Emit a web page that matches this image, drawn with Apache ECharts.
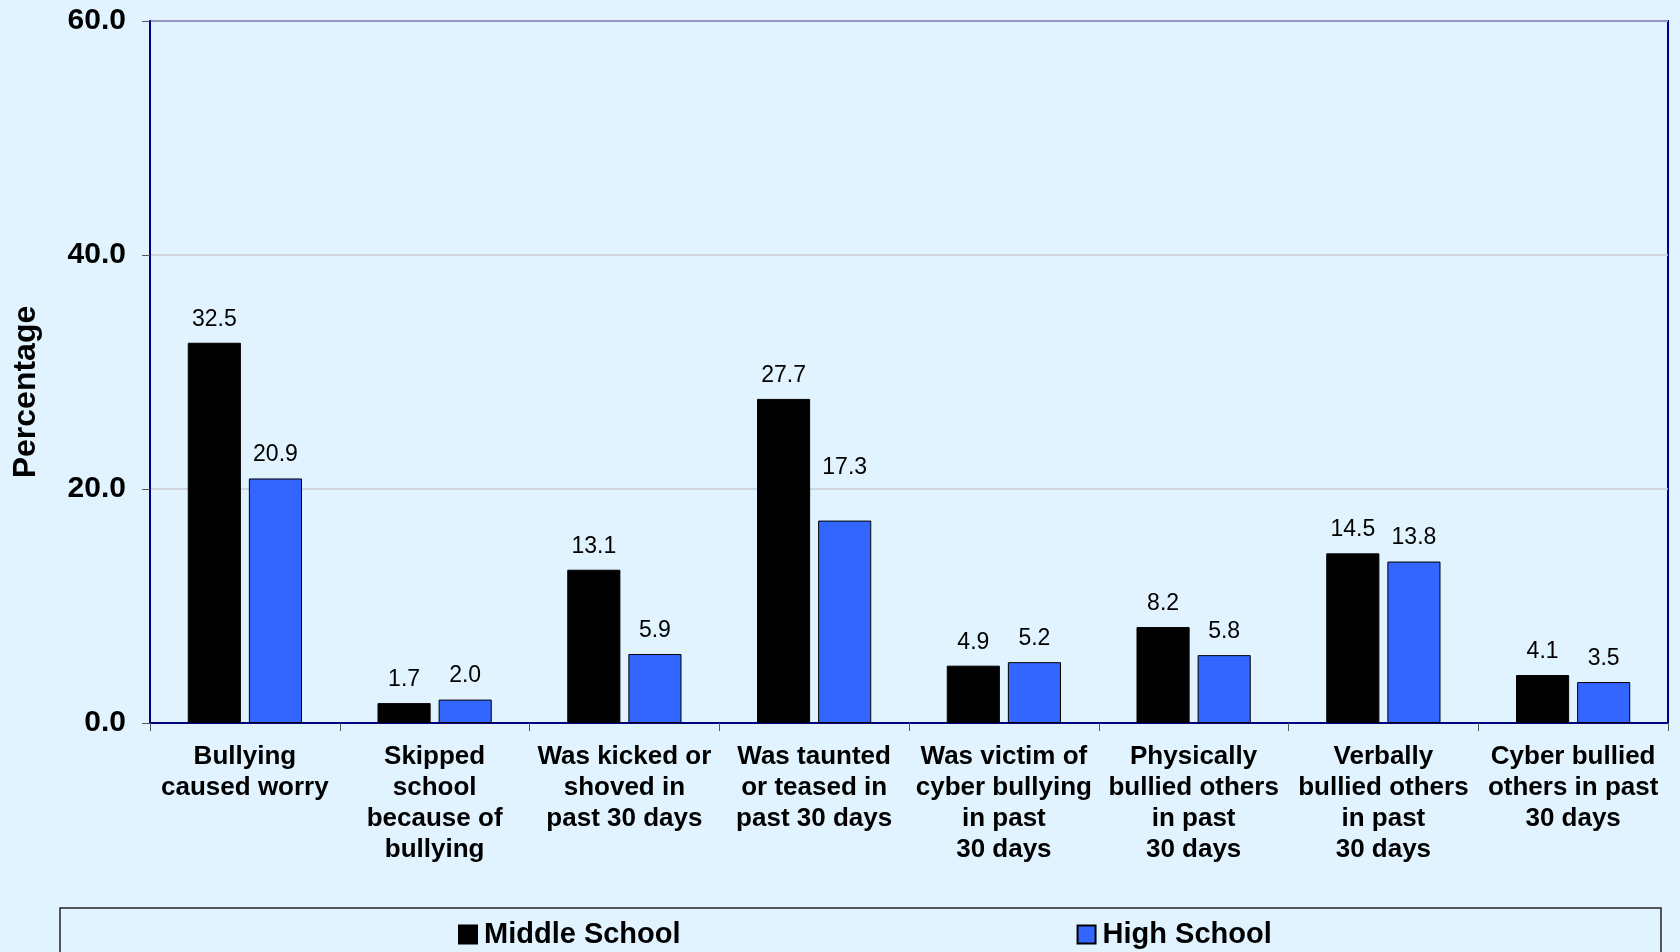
<!DOCTYPE html>
<html>
<head>
<meta charset="utf-8">
<script src="https://cdn.jsdelivr.net/npm/echarts@6/dist/echarts.min.js"></script>
<style>
html,body{margin:0;padding:0;background:#E1F3FE;}
#c{width:1680px;height:952px;}
</style>
</head>
<body>
<div id="c"></div>
<script>
const categories = [
  "Bullying\ncaused worry",
  "Skipped\nschool\nbecause of\nbullying",
  "Was kicked or\nshoved in\npast 30 days",
  "Was taunted\nor teased in\npast 30 days",
  "Was victim of\ncyber bullying\nin past\n30 days",
  "Physically\nbullied others\nin past\n30 days",
  "Verbally\nbullied others\nin past\n30 days",
  "Cyber bullied\nothers in past\n30 days"
];
const middleSchool = [32.5, 1.7, 13.1, 27.7, 4.9, 8.2, 14.5, 4.1];
const highSchool = [20.9, 2.0, 5.9, 17.3, 5.2, 5.8, 13.8, 3.5];
const seriesNames = ["Middle School", "High School"];
const yTicks = { min: 0, max: 60, interval: 20 };

const FONT = "Liberation Sans, Arial, sans-serif";
const chart = echarts.init(document.getElementById('c'));
const labelCfg = {
  show: true, position: 'top', distance: 12,
  fontFamily: FONT, fontSize: 23, color: '#000',
  formatter: p => p.value.toFixed(1)
};
// the reference places the 4th high-school label higher than the others
const highData = highSchool.map((v, i) => i === 3 ? { value: v, label: { offset: [0, -29] } } : v);

chart.setOption({
  backgroundColor: '#E1F3FE',
  animation: false,
  grid: {
    left: 150, right: 12, top: 21, bottom: 229,
    show: true, backgroundColor: '#E1F3FE',
    borderColor: '#000080', borderWidth: 2
  },
  legend: {
    left: 453, top: 915,
    itemWidth: 18, itemHeight: 18, itemGap: 396,
    icon: 'rect',
    textStyle: { fontFamily: FONT, fontSize: 29, fontWeight: 'bold', color: '#000', padding: [0,0,0,2] },
    data: seriesNames
  },
  graphic: [
    {
      type: 'rect', z: -1,
      shape: { x: 60, y: 908, width: 1601, height: 70 },
      style: { fill: 'none', stroke: '#222', lineWidth: 1.5 }
    },
    {
      type: 'text',
      x: 26, y: 392, rotation: Math.PI / 2,
      style: {
        text: 'Percentage', fontFamily: FONT, fontSize: 32, fontWeight: 'bold',
        fill: '#000', align: 'center', verticalAlign: 'middle'
      }
    }
  ],
  xAxis: {
    type: 'category',
    data: categories,
    axisLine: { lineStyle: { color: '#000080', width: 2 } },
    axisTick: { show: true, length: 8, lineStyle: { color: '#555', width: 1 } },
    axisLabel: {
      interval: 0, margin: 18,
      fontFamily: FONT, fontSize: 26, fontWeight: 'bold', color: '#000',
      lineHeight: 31, align: 'center'
    }
  },
  yAxis: {
    type: 'value',
    min: yTicks.min, max: yTicks.max, interval: yTicks.interval,
    axisLine: { show: true, lineStyle: { color: '#000080', width: 2 } },
    axisTick: { show: true, length: 8, lineStyle: { color: '#555', width: 1 } },
    splitLine: { show: true, lineStyle: { color: '#C8CDD2', width: 1.5 } },
    axisLabel: {
      margin: 24,
      fontFamily: FONT, fontSize: 30, fontWeight: 'bold', color: '#000',
      formatter: v => v.toFixed(1)
    }
  },
  series: [
    {
      name: seriesNames[0], type: 'bar', data: middleSchool,
      barWidth: '28%', barGap: '15%',
      itemStyle: { color: '#000000', borderColor: '#000', borderWidth: 1 },
      label: labelCfg
    },
    {
      name: seriesNames[1], type: 'bar', data: highData,
      barWidth: '28%', barGap: '15%',
      itemStyle: { color: '#3366FF', borderColor: '#000', borderWidth: 1 },
      label: labelCfg
    }
  ]
});
</script>
</body>
</html>
